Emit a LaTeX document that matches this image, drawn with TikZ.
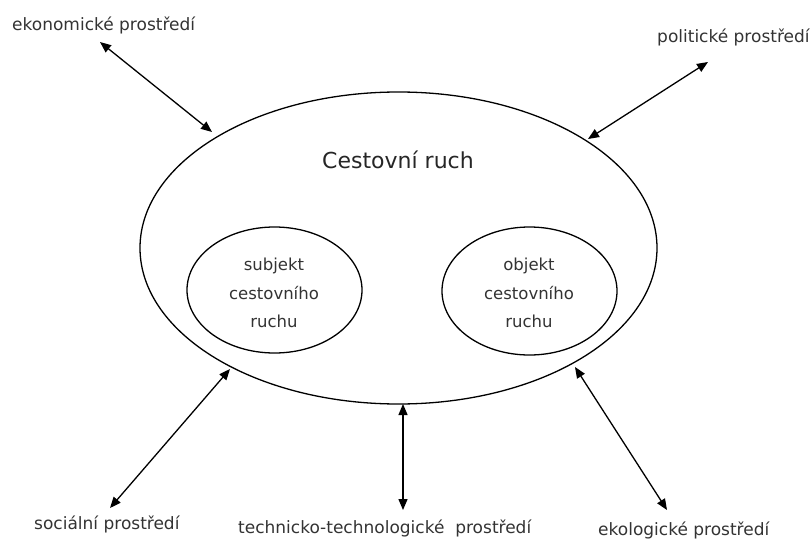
\documentclass[tikz,border=0pt]{standalone}
\usepackage{fontspec}
\setmainfont{DejaVu Sans}
\usetikzlibrary{arrows.meta}
\begin{document}
\begin{tikzpicture}[x=1pt,y=-1pt,
  outline/.style={line width=1.3pt},
  lab/.style={font=\fontsize{17}{20}\selectfont,text=black!80,inner sep=0pt,anchor=west},
  inner/.style={font=\fontsize{16.5}{28.5}\selectfont,text=black!80,align=center,inner sep=0pt},
  link/.style={line width=1.3pt,{Triangle[length=11pt,width=9pt]}-{Triangle[length=11pt,width=9pt]}}]
\useasboundingbox (0,0) rectangle (812,541);
\draw[outline] (398.5,248) ellipse [x radius=258.5, y radius=156];
\node[font=\fontsize{22}{26}\selectfont,text=black!85,inner sep=0pt] (title) at (398,160) {Cestovní ruch};
\draw[outline] (274.5,290) ellipse [x radius=87.5, y radius=63];
\draw[outline] (529.5,291) ellipse [x radius=87.5, y radius=64];
\node[inner] (subj) at (274,293) {subjekt\\cestovního\\ruchu};
\node[inner] (obj) at (529,293) {objekt\\cestovního\\ruchu};
\node[lab] (eko) at (12,25) {ekonomické prostředí};
\node[lab] (pol) at (657,37) {politické prostředí};
\node[lab] (soc) at (34,524) {sociální prostředí};
\node[lab] (tech) at (238,528) {technicko-technologické\ \ prostředí};
\node[lab] (ekol) at (598,530) {ekologické prostředí};
\coordinate (a1) at (100,42); \coordinate (b1) at (212,132);
\coordinate (a2) at (708,62); \coordinate (b2) at (588,139);
\coordinate (a3) at (110,508); \coordinate (b3) at (230,369);
\coordinate (a4) at (403,510); \coordinate (b4) at (403,404);
\coordinate (a5) at (667,510); \coordinate (b5) at (575,367);
\draw[link] (a1) -- (b1);
\draw[link] (a2) -- (b2);
\draw[link] (a3) -- (b3);
\draw[link] (a4) -- (b4);
\draw[link] (a5) -- (b5);
\end{tikzpicture}
\end{document}
